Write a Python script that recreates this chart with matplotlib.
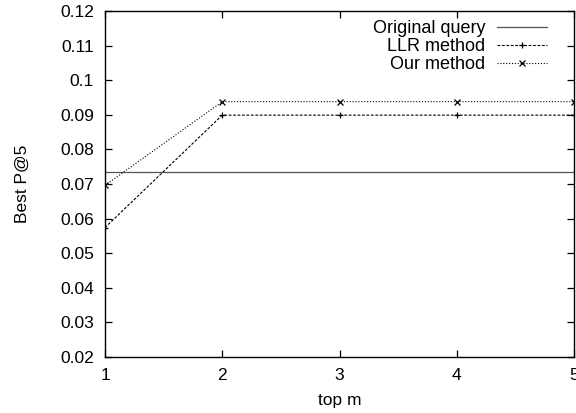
import matplotlib
matplotlib.use("Agg")
import matplotlib.pyplot as plt

plt.rcParams['font.family'] = ['Liberation Sans', 'DejaVu Sans']

top_m = [1, 2, 3, 4, 5]
original_query = 0.0735
llr_method = [0.0574, 0.0899, 0.0899, 0.0899, 0.0899]
our_method = [0.0696, 0.0938, 0.0938, 0.0938, 0.0938]
yticks = [0.02, 0.03, 0.04, 0.05, 0.06, 0.07, 0.08, 0.09, 0.1, 0.11, 0.12]
ytick_labels = ['0.02', '0.03', '0.04', '0.05', '0.06', '0.07', '0.08', '0.09', '0.1', '0.11', '0.12']

W, H = 576, 413
fig = plt.figure(figsize=(W/100, H/100), dpi=100)
L, R, T, B = 105, 574, 11, 357
ax = fig.add_axes([L/W, 1-B/H, (R-L)/W, (B-T)/H])

fs = 12.5
ax.axhline(original_query, color='#555555', lw=0.9, label='Original query')
ax.plot(top_m, llr_method, color='black', lw=0.8, ls=(0, (2.5, 1.5)), marker='+', ms=5, mew=0.9, label='LLR method')
ax.plot(top_m, our_method, color='black', lw=0.8, ls=(0, (1, 1.6)), marker='x', ms=4, mew=0.9, label='Our method')

ax.set_xlim(1, 5)
ax.set_ylim(0.02, 0.12)
ax.set_xticks(top_m)
ax.set_yticks(yticks)
ax.set_yticklabels(ytick_labels)
ax.tick_params(direction='in', length=5, width=0.9, top=True, right=True, labelsize=fs, pad=8)
for s in ax.spines.values():
    s.set_linewidth(1.0)

ax.set_xlabel('top m', fontsize=fs, labelpad=7)
ax.set_ylabel('Best P@5', fontsize=fs, labelpad=22)

ax.legend(loc='upper right', frameon=False, markerfirst=False, fontsize=13,
          handlelength=2.75, handletextpad=0.65, labelspacing=0.05,
          borderaxespad=0.0, borderpad=0.25,
          bbox_to_anchor=((550 - L) / (R - L) + 0.003, 1.0 - 0.0136))

fig.savefig('out.png', dpi=100)
